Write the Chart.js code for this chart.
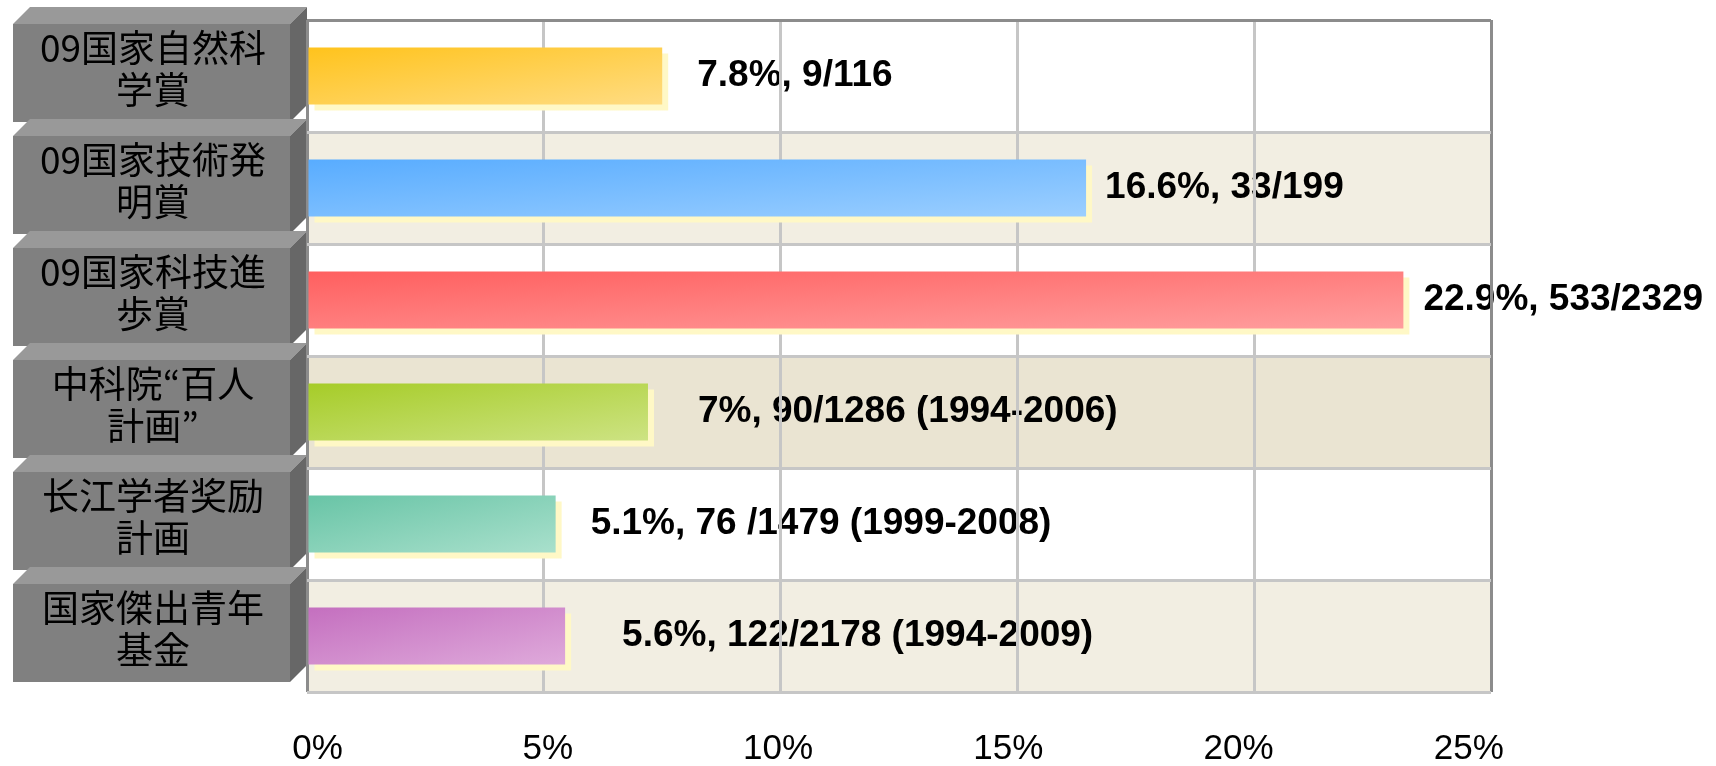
<!DOCTYPE html>
<html>
<head>
<meta charset="utf-8">
<script src="https://cdn.jsdelivr.net/npm/chart.js@4.4.1/dist/chart.umd.min.js"></script>
<style>
  html, body { margin: 0; padding: 0; background: #fff; }
  #wrap { width: 1716px; height: 766px; }
</style>
</head>
<body>
<div id="wrap"><canvas id="awardChart"></canvas></div>
<script>
const categories = [
    ['09国家自然科', '学賞'],
    ['09国家技術発', '明賞'],
    ['09国家科技進', '歩賞'],
    ['中科院“百人', '計画”'],
    ['长江学者奖励', '計画'],
    ['国家傑出青年', '基金']
];
const shareValues = [7.5, 16.45, 23.15, 7.2, 5.25, 5.45];
const valueLabels = [
    '7.8%, 9/116',
    '16.6%, 33/199',
    '22.9%, 533/2329',
    '7%, 90/1286 (1994-2006)',
    '5.1%, 76 /1479 (1999-2008)',
    '5.6%, 122/2178 (1994-2009)'
];
const xTicks = [0, 5, 10, 15, 20, 25];

// styling
const barColors = [
    ['#FFC31C', '#FFDC82'],
    ['#58ACFF', '#9CCFFF'],
    ['#FF5F5F', '#FF9E9E'],
    ['#A6CC28', '#CDE383'],
    ['#68C4A6', '#A9E0CC'],
    ['#C46FBF', '#DFAADB']
];
const rowColors = ['#FFFFFF', '#F2EEE2', '#FFFFFF', '#EAE4D2', '#FFFFFF', '#F2EEE2'];
const labelGaps = [35, 19, 20, 50, 35, 57];
const BAR_PCT = 0.51;
const CJK = '"Noto Sans CJK JP", "Liberation Sans", sans-serif';

function barFill(c) {
    const chart = c.chart;
    const i = c.dataIndex;
    const {x, y} = chart.scales;
    const fallback = barColors[i] ? barColors[i][0] : '#999';
    if (!x || !y || i === undefined) return fallback;
    const left = x.getPixelForValue(0);
    const right = x.getPixelForValue(shareValues[i]);
    const h = Math.abs(y.getPixelForValue(1) - y.getPixelForValue(0)) * BAR_PCT;
    const top = y.getPixelForValue(i) - h / 2;
    const w = right - left;
    if (![left, right, h, top].every(Number.isFinite) || w <= 0 || h <= 0) return fallback;
    // diagonal in box space, like office gradients
    const t = 2 * w * h / (w * w + h * h);
    const g = chart.ctx.createLinearGradient(left, top, left + h * t, top + w * t);
    g.addColorStop(0, barColors[i][0]);
    g.addColorStop(1, barColors[i][1]);
    return g;
}

const decor = {
    id: 'decor',
    beforeDraw(chart) {
        const {ctx, chartArea: area, scales: {y}} = chart;
        const rowH = (area.bottom - area.top) / categories.length;
        const d = 17;
        ctx.save();
        categories.forEach((c, i) => {
            const top = y.getPixelForValue(i) - rowH / 2;
            ctx.fillStyle = rowColors[i];
            ctx.fillRect(area.left, top, area.right - area.left, rowH);

            // grey 3d label block
            const fL = 13, fR = area.left - d, fT = top + 4, fB = top + rowH - 10;
            ctx.fillStyle = '#999999';
            ctx.beginPath();
            ctx.moveTo(fL, fT); ctx.lineTo(fL + d, fT - d);
            ctx.lineTo(fR + d, fT - d); ctx.lineTo(fR, fT);
            ctx.closePath(); ctx.fill();
            ctx.fillStyle = '#676767';
            ctx.beginPath();
            ctx.moveTo(fR, fT); ctx.lineTo(fR + d, fT - d);
            ctx.lineTo(fR + d, fB - d); ctx.lineTo(fR, fB);
            ctx.closePath(); ctx.fill();
            ctx.fillStyle = '#808080';
            ctx.fillRect(fL, fT, fR - fL, fB - fT);
        });

        // value labels sit under the grid, as in the original
        const meta = chart.getDatasetMeta(0);
        ctx.fillStyle = '#000';
        ctx.font = 'bold 37px "Liberation Sans", Arial, sans-serif';
        ctx.textAlign = 'left';
        ctx.textBaseline = 'middle';
        meta.data.forEach((bar, i) => {
            ctx.fillText(valueLabels[i], bar.x + labelGaps[i], bar.y);
        });
        ctx.restore();
    },
    beforeDatasetsDraw(chart) {
        const ctx = chart.ctx;
        ctx.save();
        ctx.shadowColor = '#FFF8C6';
        ctx.shadowOffsetX = 6;
        ctx.shadowOffsetY = 6;
        ctx.shadowBlur = 0;
    },
    afterDatasetsDraw(chart) {
        chart.ctx.restore();
    }
};

const edgeColor = (n) => (c) => (c.index === 0 || c.index === n) ? '#8C8C8C' : '#C6C6C6';
const noPad = (s) => { s.paddingTop = 0; s.paddingBottom = 0; s.paddingLeft = 0; s.paddingRight = 0; };

document.addEventListener('DOMContentLoaded', function() {
    new Chart(document.getElementById('awardChart').getContext('2d'), {
        type: 'bar',
        data: {
            labels: categories,
            datasets: [{
                data: shareValues,
                backgroundColor: barFill,
                borderWidth: 0,
                barPercentage: BAR_PCT,
                categoryPercentage: 1
            }]
        },
        options: {
            indexAxis: 'y',
            responsive: true,
            maintainAspectRatio: false,
            animation: false,
            events: [],
            layout: { padding: { top: 20, right: 225, left: 0, bottom: 0 } },
            plugins: { legend: { display: false }, tooltip: { enabled: false } },
            scales: {
                x: {
                    type: 'linear',
                    position: 'bottom',
                    min: 0,
                    max: 25,
                    ticks: { stepSize: 5, display: false },
                    grid: { color: edgeColor(5), lineWidth: 3, drawTicks: false },
                    border: { display: false },
                    afterFit(s) { s.height = 0; noPad(s); }
                },
                x2: {
                    type: 'linear',
                    position: 'bottom',
                    weight: 1,
                    min: -0.228,
                    max: 25.48,
                    afterBuildTicks(s) { s.ticks = xTicks.map(v => ({ value: v })); },
                    ticks: {
                        callback: v => v + '%',
                        color: '#000',
                        padding: 36,
                        font: { family: '"Liberation Sans", Arial, sans-serif', size: 35 }
                    },
                    grid: { display: false, drawTicks: false },
                    border: { display: false },
                    afterFit(s) { s.height = 74; noPad(s); }
                },
                y: {
                    type: 'category',
                    offset: true,
                    grid: { offset: true, color: edgeColor(6), lineWidth: 3, drawTicks: false },
                    border: { display: false },
                    ticks: {
                        crossAlign: 'center',
                        padding: 41,
                        labelOffset: -7,
                        color: '#000',
                        font: { family: CJK, size: 37, lineHeight: 1.15 }
                    },
                    afterFit(s) { s.width = 307; noPad(s); }
                }
            }
        },
        plugins: [decor]
    });
});
</script>
</body>
</html>
